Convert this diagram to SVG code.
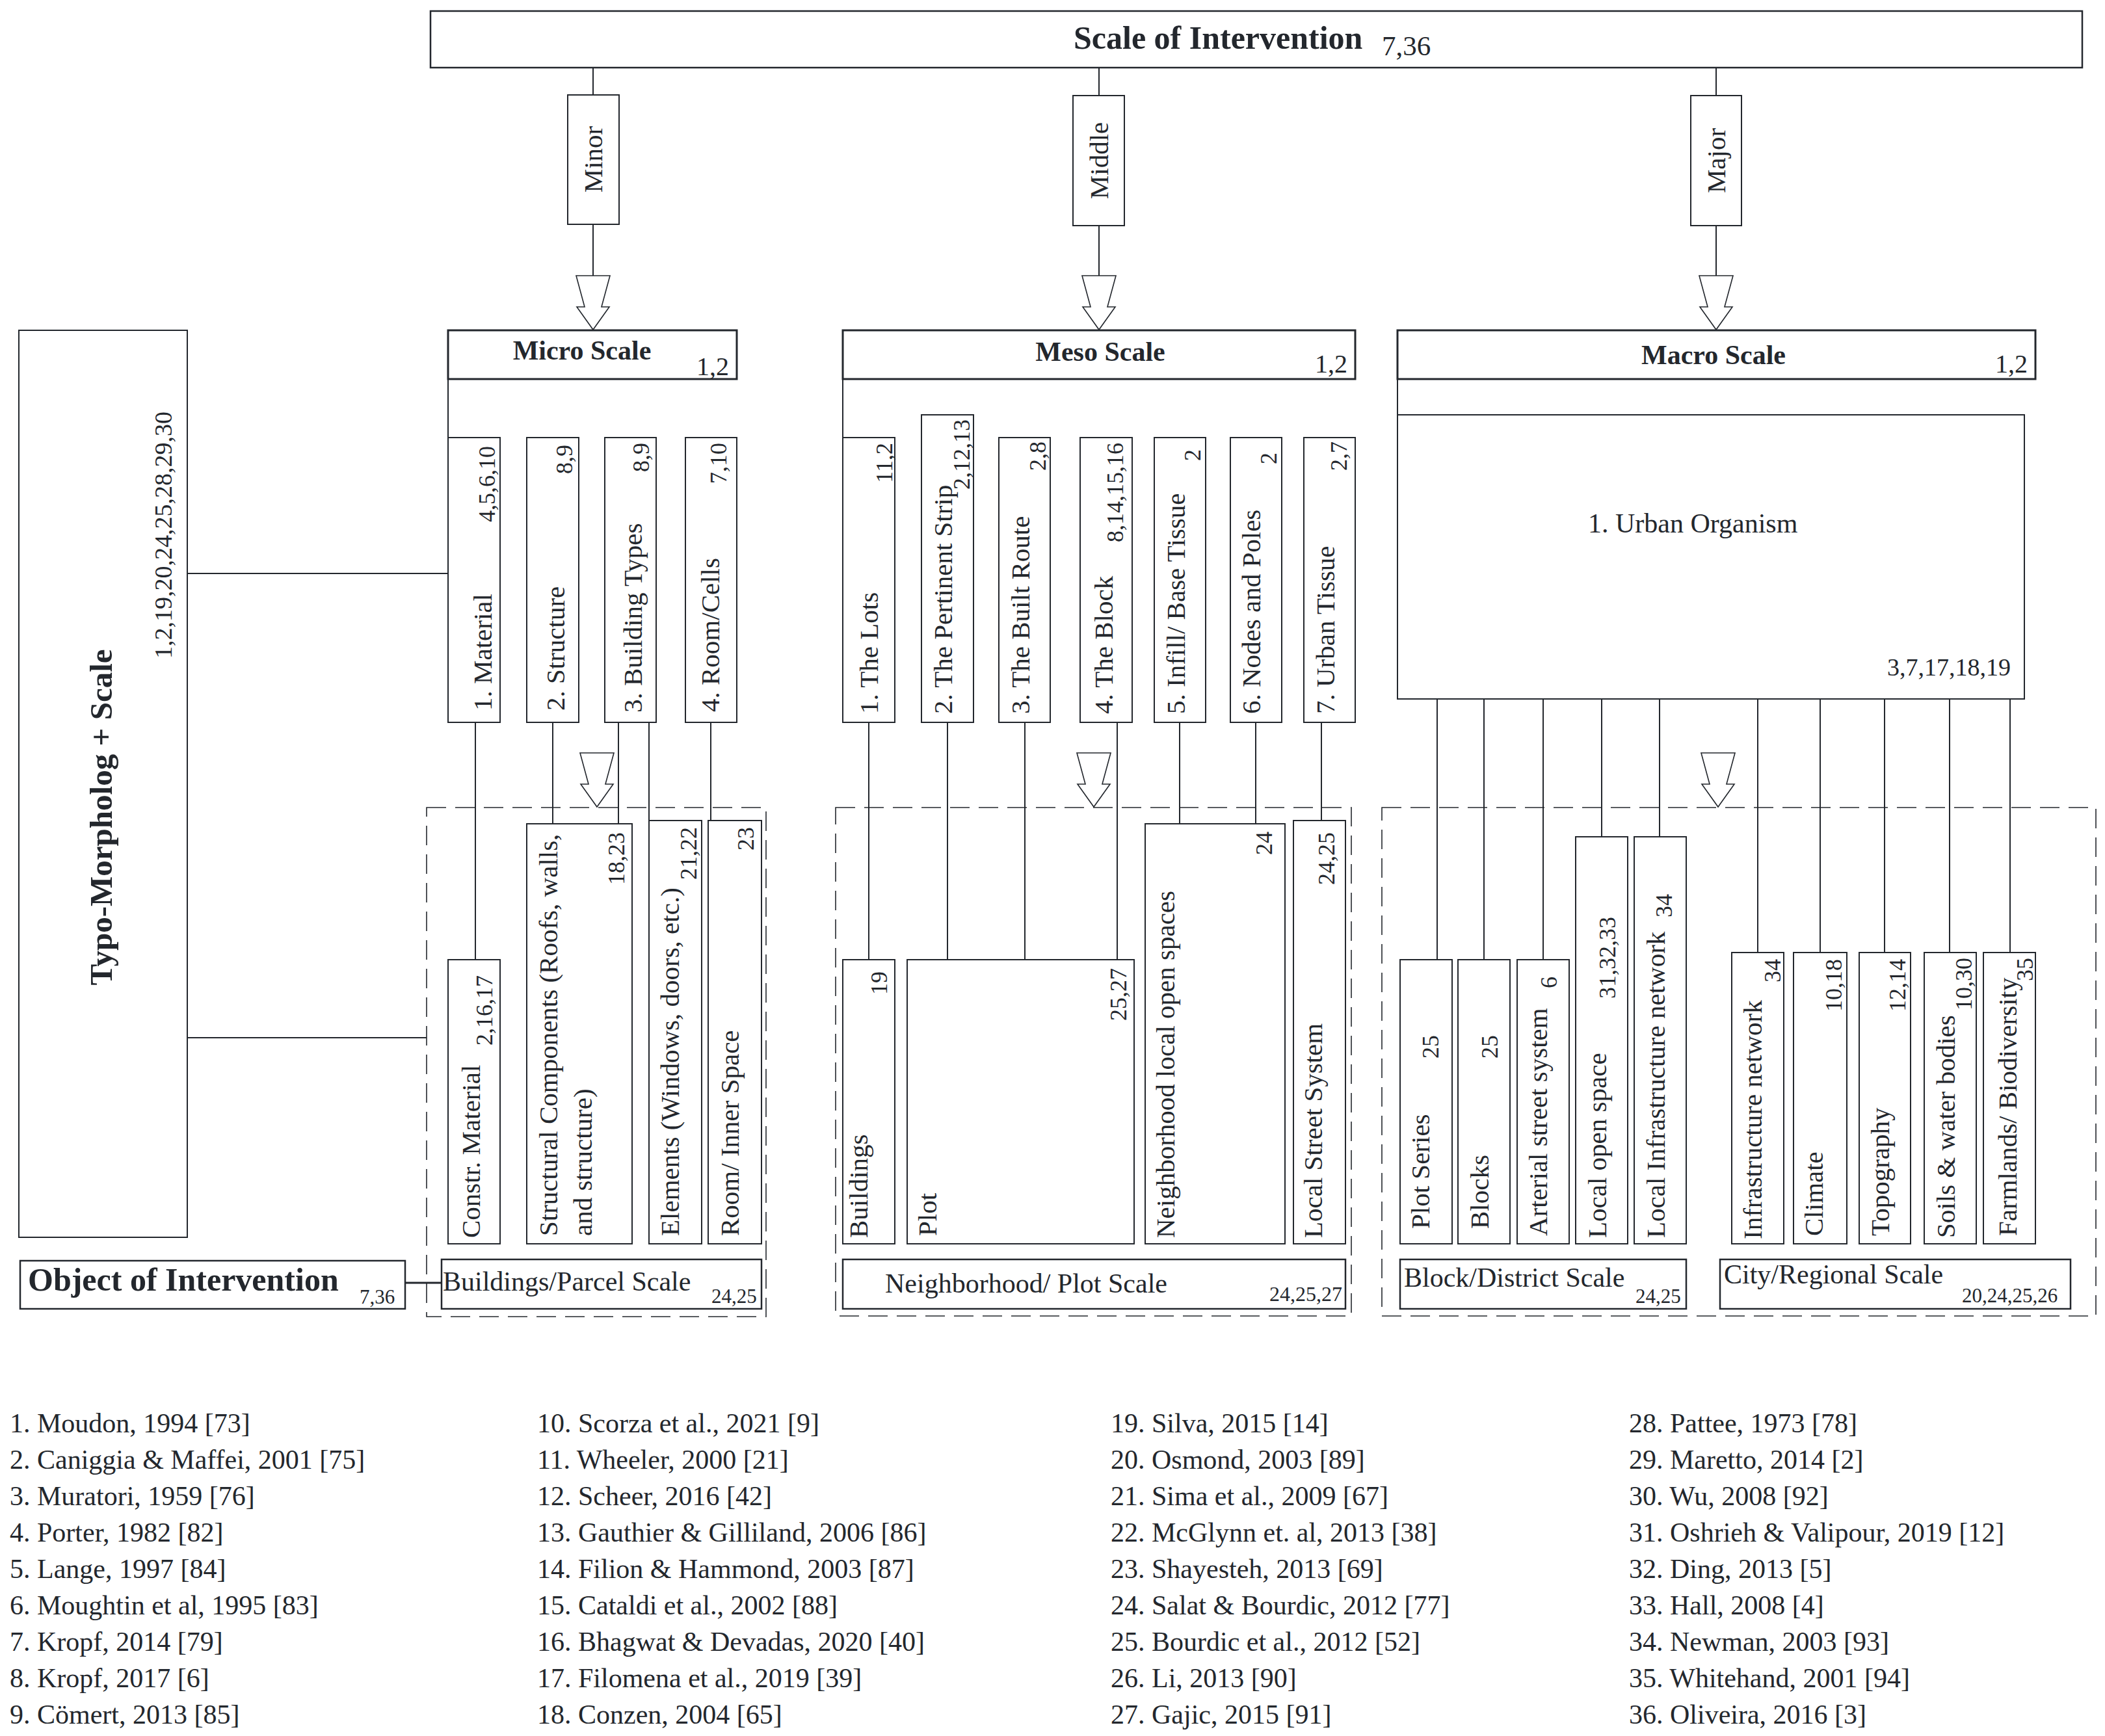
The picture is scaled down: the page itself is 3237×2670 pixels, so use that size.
<svg xmlns="http://www.w3.org/2000/svg" xmlns:xlink="http://www.w3.org/1999/xlink" width="3237" height="2670" viewBox="0 0 3237 2670">
<style>
text{font-family:"Liberation Serif","Times New Roman",serif;fill:#23272d}
.b{font-weight:bold}
.box{fill:#fff;stroke:#23272d;stroke-width:2}
.tbox{fill:#fff;stroke:#23272d;stroke-width:3}
.dash{fill:none;stroke:#23272d;stroke-width:1.6;stroke-dasharray:30 14}
.ln{stroke:#23272d;stroke-width:2;fill:none}
.arr{fill:#fff;stroke:#23272d;stroke-width:1.6}
.v{font-size:41px}
.vn{font-size:36px;text-anchor:end}
.h{font-size:42px}
.ref{font-size:42px}
</style>
<defs>
<path id="arrow" class="arr" d="M-26,0 L26,0 L13,48 L25,48 L0,83 L-25,48 L-13,48 Z"/>
</defs>
<rect width="3237" height="2670" fill="#fff"/>

<g id="connectors">
<line class="ln" x1="912" y1="104" x2="912" y2="146"/>
<line class="ln" x1="912" y1="345" x2="912" y2="424"/>
<line class="ln" x1="1690" y1="104" x2="1690" y2="147"/>
<line class="ln" x1="1690" y1="347" x2="1690" y2="424"/>
<line class="ln" x1="2639" y1="104" x2="2639" y2="147"/>
<line class="ln" x1="2639" y1="347" x2="2639" y2="424"/>
<line class="ln" x1="689" y1="583" x2="689" y2="673"/>
<line class="ln" x1="1296" y1="583" x2="1296" y2="673"/>
<line class="ln" x1="2149" y1="583" x2="2149" y2="638"/>
<line class="ln" x1="288" y1="882" x2="689" y2="882"/>
<line class="ln" x1="288" y1="1596" x2="656" y2="1596"/>
<line class="ln" x1="623" y1="1973" x2="679" y2="1973" style="stroke-width:3"/>
<line class="ln" x1="731" y1="1111" x2="731" y2="1476"/>
<line class="ln" x1="850" y1="1111" x2="850" y2="1267"/>
<line class="ln" x1="951" y1="1111" x2="951" y2="1267"/>
<line class="ln" x1="998" y1="1111" x2="998" y2="1262"/>
<line class="ln" x1="1093" y1="1111" x2="1093" y2="1262"/>
<line class="ln" x1="1336" y1="1111" x2="1336" y2="1476"/>
<line class="ln" x1="1457" y1="1111" x2="1457" y2="1476"/>
<line class="ln" x1="1576" y1="1111" x2="1576" y2="1476"/>
<line class="ln" x1="1718" y1="1111" x2="1718" y2="1476"/>
<line class="ln" x1="1814" y1="1111" x2="1814" y2="1267"/>
<line class="ln" x1="1931" y1="1111" x2="1931" y2="1267"/>
<line class="ln" x1="2032" y1="1111" x2="2032" y2="1262"/>
<line class="ln" x1="2210" y1="1075" x2="2210" y2="1476"/>
<line class="ln" x1="2282" y1="1075" x2="2282" y2="1476"/>
<line class="ln" x1="2373" y1="1075" x2="2373" y2="1476"/>
<line class="ln" x1="2463" y1="1075" x2="2463" y2="1287"/>
<line class="ln" x1="2552" y1="1075" x2="2552" y2="1287"/>
<line class="ln" x1="2703" y1="1075" x2="2703" y2="1465"/>
<line class="ln" x1="2799" y1="1075" x2="2799" y2="1465"/>
<line class="ln" x1="2898" y1="1075" x2="2898" y2="1465"/>
<line class="ln" x1="2998" y1="1075" x2="2998" y2="1465"/>
<line class="ln" x1="3091" y1="1075" x2="3091" y2="1465"/>
<use xlink:href="#arrow" href="#arrow" transform="translate(912,424)"/>
<use xlink:href="#arrow" href="#arrow" transform="translate(1690,424)"/>
<use xlink:href="#arrow" href="#arrow" transform="translate(2639,424)"/>
<use xlink:href="#arrow" href="#arrow" transform="translate(918,1158)"/>
<use xlink:href="#arrow" href="#arrow" transform="translate(1682,1158)"/>
<use xlink:href="#arrow" href="#arrow" transform="translate(2642,1158)"/>
</g>

<g id="scale-of-intervention">
<rect class="box" x="662" y="17" width="2540" height="87" style="stroke-width:2.5"/>
<text class="b" x="1651" y="75" font-size="50">Scale of Intervention</text>
<text x="2125" y="85" font-size="43">7,36</text>
</g>

<g id="minor"><rect class="box" x="873" y="146" width="79" height="199"/>
<text class="v" transform="translate(926,245) rotate(-90)" text-anchor="middle">Minor</text></g>
<g id="middle"><rect class="box" x="1650" y="147" width="79" height="200"/>
<text class="v" transform="translate(1704,247) rotate(-90)" text-anchor="middle">Middle</text></g>
<g id="major"><rect class="box" x="2600" y="147" width="78" height="200"/>
<text class="v" transform="translate(2653,247) rotate(-90)" text-anchor="middle">Major</text></g>

<g id="typo-morpholog">
<rect class="box" x="29" y="508" width="259" height="1395"/>
<text class="b" transform="translate(172,1257) rotate(-90)" text-anchor="middle" font-size="49">Typo-Morpholog + Scale</text>
<text transform="translate(264,1013) rotate(-90)" font-size="38">1,2,19,20,24,25,28,29,30</text>
</g>

<g id="object-of-intervention">
<rect class="tbox" x="31" y="1939" width="592" height="74" style="stroke-width:2.5"/>
<text class="b" x="43" y="1985" font-size="50">Object of Intervention</text>
<text x="553" y="2005" font-size="31">7,36</text>
</g>

<!-- Micro -->
<g id="micro-scale">
<rect class="tbox" x="689" y="508" width="444" height="75"/>
<text class="b" x="895" y="553" font-size="42" text-anchor="middle">Micro Scale</text>
<text x="1071" y="577" font-size="40">1,2</text>
</g>
<g id="micro-1"><rect class="box" x="689" y="673" width="80" height="438"/>
<text class="v" transform="translate(756,1093) rotate(-90)">1. Material</text>
<text class="vn" transform="translate(761,686) rotate(-90)">4,5,6,10</text></g>
<g id="micro-2"><rect class="box" x="810" y="673" width="80" height="438"/>
<text class="v" transform="translate(868,1093) rotate(-90)">2. Structure</text>
<text class="vn" transform="translate(880,684) rotate(-90)">8,9</text></g>
<g id="micro-3"><rect class="box" x="930" y="673" width="79" height="438"/>
<text class="v" transform="translate(987,1096) rotate(-90)">3. Building Types</text>
<text class="vn" transform="translate(998,681) rotate(-90)">8,9</text></g>
<g id="micro-4"><rect class="box" x="1054" y="673" width="79" height="438"/>
<text class="v" transform="translate(1106,1095) rotate(-90)">4. Room/Cells</text>
<text class="vn" transform="translate(1117,681) rotate(-90)">7,10</text></g>

<g id="micro-objects">
<rect class="dash" x="656" y="1242" width="522" height="783"/>
</g>
<g id="constr-material"><rect class="box" x="689" y="1476" width="80" height="437"/>
<text class="v" transform="translate(738,1904) rotate(-90)">Constr. Material</text>
<text class="vn" transform="translate(757,1500) rotate(-90)">2,16,17</text></g>
<g id="structural-components"><rect class="box" x="810" y="1267" width="162" height="646"/>
<text class="v" transform="translate(857,1901) rotate(-90)">Structural Components (Roofs, walls,</text>
<text class="v" transform="translate(910,1901) rotate(-90)">and structure)</text>
<text class="vn" transform="translate(960,1280) rotate(-90)">18,23</text></g>
<g id="elements"><rect class="box" x="998" y="1262" width="81" height="651"/>
<text class="v" transform="translate(1044,1901) rotate(-90)">Elements (Windows, doors, etc.)</text>
<text class="vn" transform="translate(1071,1272) rotate(-90)">21,22</text></g>
<g id="room-inner-space"><rect class="box" x="1089" y="1262" width="82" height="651"/>
<text class="v" transform="translate(1136,1901) rotate(-90)">Room/ Inner Space</text>
<text class="vn" transform="translate(1159,1272) rotate(-90)">23</text></g>
<g id="buildings-parcel-scale"><rect class="tbox" x="679" y="1937" width="492" height="76" style="stroke-width:2.5"/>
<text class="h" x="681" y="1985">Buildings/Parcel Scale</text>
<text x="1094" y="2004" font-size="31">24,25</text></g>

<!-- Meso -->
<g id="meso-scale">
<rect class="tbox" x="1296" y="508" width="788" height="75"/>
<text class="b" x="1692" y="555" font-size="42" text-anchor="middle">Meso Scale</text>
<text x="2022" y="573" font-size="40">1,2</text>
</g>
<g id="meso-1"><rect class="box" x="1296" y="673" width="80" height="438"/>
<text class="v" transform="translate(1350,1098) rotate(-90)">1. The Lots</text>
<text class="vn" transform="translate(1372,681) rotate(-90)">11,2</text></g>
<g id="meso-2"><rect class="box" x="1417" y="638" width="80" height="473"/>
<text class="v" transform="translate(1464,1098) rotate(-90)">2. The Pertinent Strip</text>
<text class="vn" transform="translate(1491,645) rotate(-90)">2,12,13</text></g>
<g id="meso-3"><rect class="box" x="1536" y="673" width="79" height="438"/>
<text class="v" transform="translate(1583,1098) rotate(-90)">3. The Built Route</text>
<text class="vn" transform="translate(1608,679) rotate(-90)">2,8</text></g>
<g id="meso-4"><rect class="box" x="1661" y="673" width="80" height="438"/>
<text class="v" transform="translate(1711,1098) rotate(-90)">4. The Block</text>
<text class="vn" transform="translate(1727,681) rotate(-90)">8,14,15,16</text></g>
<g id="meso-5"><rect class="box" x="1775" y="673" width="79" height="438"/>
<text class="v" transform="translate(1822,1098) rotate(-90)">5. Infill/ Base Tissue</text>
<text class="vn" transform="translate(1846,691) rotate(-90)">2</text></g>
<g id="meso-6"><rect class="box" x="1892" y="673" width="79" height="438"/>
<text class="v" transform="translate(1938,1098) rotate(-90)">6. Nodes and Poles</text>
<text class="vn" transform="translate(1963,696) rotate(-90)">2</text></g>
<g id="meso-7"><rect class="box" x="2005" y="673" width="79" height="438"/>
<text class="v" transform="translate(2052,1098) rotate(-90)">7. Urban Tissue</text>
<text class="vn" transform="translate(2071,679) rotate(-90)">2,7</text></g>

<g id="meso-objects">
<rect class="dash" x="1285" y="1242" width="793" height="782"/>
</g>
<g id="buildings"><rect class="box" x="1296" y="1476" width="80" height="437"/>
<text class="v" transform="translate(1334,1904) rotate(-90)">Buildings</text>
<text class="vn" transform="translate(1364,1494) rotate(-90)">19</text></g>
<g id="plot"><rect class="box" x="1395" y="1476" width="349" height="437"/>
<text class="v" transform="translate(1440,1901) rotate(-90)">Plot</text>
<text class="vn" transform="translate(1732,1489) rotate(-90)">25,27</text></g>
<g id="neighborhood-open-spaces"><rect class="box" x="1761" y="1267" width="215" height="646"/>
<text class="v" transform="translate(1806,1904) rotate(-90)">Neighborhood local open spaces</text>
<text class="vn" transform="translate(1956,1279) rotate(-90)">24</text></g>
<g id="local-street-system"><rect class="box" x="1989" y="1262" width="80" height="651"/>
<text class="v" transform="translate(2033,1904) rotate(-90)">Local Street System</text>
<text class="vn" transform="translate(2052,1280) rotate(-90)">24,25</text></g>
<g id="neighborhood-plot-scale"><rect class="tbox" x="1296" y="1937" width="773" height="76" style="stroke-width:2.5"/>
<text class="h" x="1361" y="1988">Neighborhood/ Plot Scale</text>
<text x="1952" y="2001" font-size="32">24,25,27</text></g>

<!-- Macro -->
<g id="macro-scale">
<rect class="tbox" x="2149" y="508" width="981" height="75"/>
<text class="b" x="2635" y="560" font-size="42" text-anchor="middle">Macro Scale</text>
<text x="3068" y="573" font-size="40">1,2</text>
</g>
<g id="urban-organism"><rect class="box" x="2149" y="638" width="964" height="437"/>
<text class="h" x="2442" y="819">1. Urban Organism</text>
<text x="3092" y="1039" font-size="38" text-anchor="end">3,7,17,18,19</text></g>

<g id="macro-objects">
<rect class="dash" x="2125" y="1242" width="1098" height="782"/>
</g>
<g id="plot-series"><rect class="box" x="2153" y="1476" width="80" height="437"/>
<text class="v" transform="translate(2198,1890) rotate(-90)">Plot Series</text>
<text class="vn" transform="translate(2212,1592) rotate(-90)">25</text></g>
<g id="blocks"><rect class="box" x="2242" y="1476" width="80" height="437"/>
<text class="v" transform="translate(2289,1890) rotate(-90)">Blocks</text>
<text class="vn" transform="translate(2303,1592) rotate(-90)">25</text></g>
<g id="arterial"><rect class="box" x="2333" y="1476" width="80" height="437"/>
<text class="v" transform="translate(2379,1901) rotate(-90)">Arterial street system</text>
<text class="vn" transform="translate(2394,1502) rotate(-90)">6</text></g>
<g id="local-open-space"><rect class="box" x="2423" y="1287" width="80" height="626"/>
<text class="v" transform="translate(2470,1904) rotate(-90)">Local open space</text>
<text class="vn" transform="translate(2484,1410) rotate(-90)">31,32,33</text></g>
<g id="local-infrastructure"><rect class="box" x="2513" y="1287" width="80" height="626"/>
<text class="v" transform="translate(2560,1904) rotate(-90)">Local Infrastructure network</text>
<text class="vn" transform="translate(2571,1375) rotate(-90)">34</text></g>
<g id="infrastructure-network"><rect class="box" x="2663" y="1465" width="80" height="448"/>
<text class="v" transform="translate(2709,1906) rotate(-90)">Infrastructure network</text>
<text class="vn" transform="translate(2738,1475) rotate(-90)">34</text></g>
<g id="climate"><rect class="box" x="2758" y="1465" width="82" height="448"/>
<text class="v" transform="translate(2803,1901) rotate(-90)">Climate</text>
<text class="vn" transform="translate(2832,1475) rotate(-90)">10,18</text></g>
<g id="topography"><rect class="box" x="2859" y="1465" width="79" height="448"/>
<text class="v" transform="translate(2905,1901) rotate(-90)">Topography</text>
<text class="vn" transform="translate(2930,1475) rotate(-90)">12,14</text></g>
<g id="soils"><rect class="box" x="2959" y="1465" width="80" height="448"/>
<text class="v" transform="translate(3006,1904) rotate(-90)">Soils &amp; water bodies</text>
<text class="vn" transform="translate(3032,1473) rotate(-90)">10,30</text></g>
<g id="farmlands"><rect class="box" x="3050" y="1465" width="80" height="448"/>
<text class="v" transform="translate(3101,1901) rotate(-90)">Farmlands/ Biodiversity</text>
<text class="vn" transform="translate(3126,1473) rotate(-90)">35</text></g>
<g id="block-district-scale"><rect class="tbox" x="2153" y="1937" width="440" height="76" style="stroke-width:2.5"/>
<text class="h" x="2159" y="1979">Block/District Scale</text>
<text x="2515" y="2004" font-size="31">24,25</text></g>
<g id="city-regional-scale"><rect class="tbox" x="2645" y="1937" width="539" height="76" style="stroke-width:2.5"/>
<text class="h" x="2651" y="1974">City/Regional Scale</text>
<text x="3017" y="2003" font-size="31">20,24,25,26</text></g>

<g id="references" class="ref">
<text class="ref" x="15" y="2203">1. Moudon, 1994 [73]</text>
<text class="ref" x="15" y="2259">2. Caniggia &amp; Maffei, 2001 [75]</text>
<text class="ref" x="15" y="2315">3. Muratori, 1959 [76]</text>
<text class="ref" x="15" y="2371">4. Porter, 1982 [82]</text>
<text class="ref" x="15" y="2427">5. Lange, 1997 [84]</text>
<text class="ref" x="15" y="2483">6. Moughtin et al, 1995 [83]</text>
<text class="ref" x="15" y="2539">7. Kropf, 2014 [79]</text>
<text class="ref" x="15" y="2595">8. Kropf, 2017 [6]</text>
<text class="ref" x="15" y="2651">9. Cömert, 2013 [85]</text>
<text class="ref" x="826" y="2203">10. Scorza et al., 2021 [9]</text>
<text class="ref" x="826" y="2259">11. Wheeler, 2000 [21]</text>
<text class="ref" x="826" y="2315">12. Scheer, 2016 [42]</text>
<text class="ref" x="826" y="2371">13. Gauthier &amp; Gilliland, 2006 [86]</text>
<text class="ref" x="826" y="2427">14. Filion &amp; Hammond, 2003 [87]</text>
<text class="ref" x="826" y="2483">15. Cataldi et al., 2002 [88]</text>
<text class="ref" x="826" y="2539">16. Bhagwat &amp; Devadas, 2020 [40]</text>
<text class="ref" x="826" y="2595">17. Filomena et al., 2019 [39]</text>
<text class="ref" x="826" y="2651">18. Conzen, 2004 [65]</text>
<text class="ref" x="1708" y="2203">19. Silva, 2015 [14]</text>
<text class="ref" x="1708" y="2259">20. Osmond, 2003 [89]</text>
<text class="ref" x="1708" y="2315">21. Sima et al., 2009 [67]</text>
<text class="ref" x="1708" y="2371">22. McGlynn et. al, 2013 [38]</text>
<text class="ref" x="1708" y="2427">23. Shayesteh, 2013 [69]</text>
<text class="ref" x="1708" y="2483">24. Salat &amp; Bourdic, 2012 [77]</text>
<text class="ref" x="1708" y="2539">25. Bourdic et al., 2012 [52]</text>
<text class="ref" x="1708" y="2595">26. Li, 2013 [90]</text>
<text class="ref" x="1708" y="2651">27. Gajic, 2015 [91]</text>
<text class="ref" x="2505" y="2203">28. Pattee, 1973 [78]</text>
<text class="ref" x="2505" y="2259">29. Maretto, 2014 [2]</text>
<text class="ref" x="2505" y="2315">30. Wu, 2008 [92]</text>
<text class="ref" x="2505" y="2371">31. Oshrieh &amp; Valipour, 2019 [12]</text>
<text class="ref" x="2505" y="2427">32. Ding, 2013 [5]</text>
<text class="ref" x="2505" y="2483">33. Hall, 2008 [4]</text>
<text class="ref" x="2505" y="2539">34. Newman, 2003 [93]</text>
<text class="ref" x="2505" y="2595">35. Whitehand, 2001 [94]</text>
<text class="ref" x="2505" y="2651">36. Oliveira, 2016 [3]</text>
</g>
</svg>
